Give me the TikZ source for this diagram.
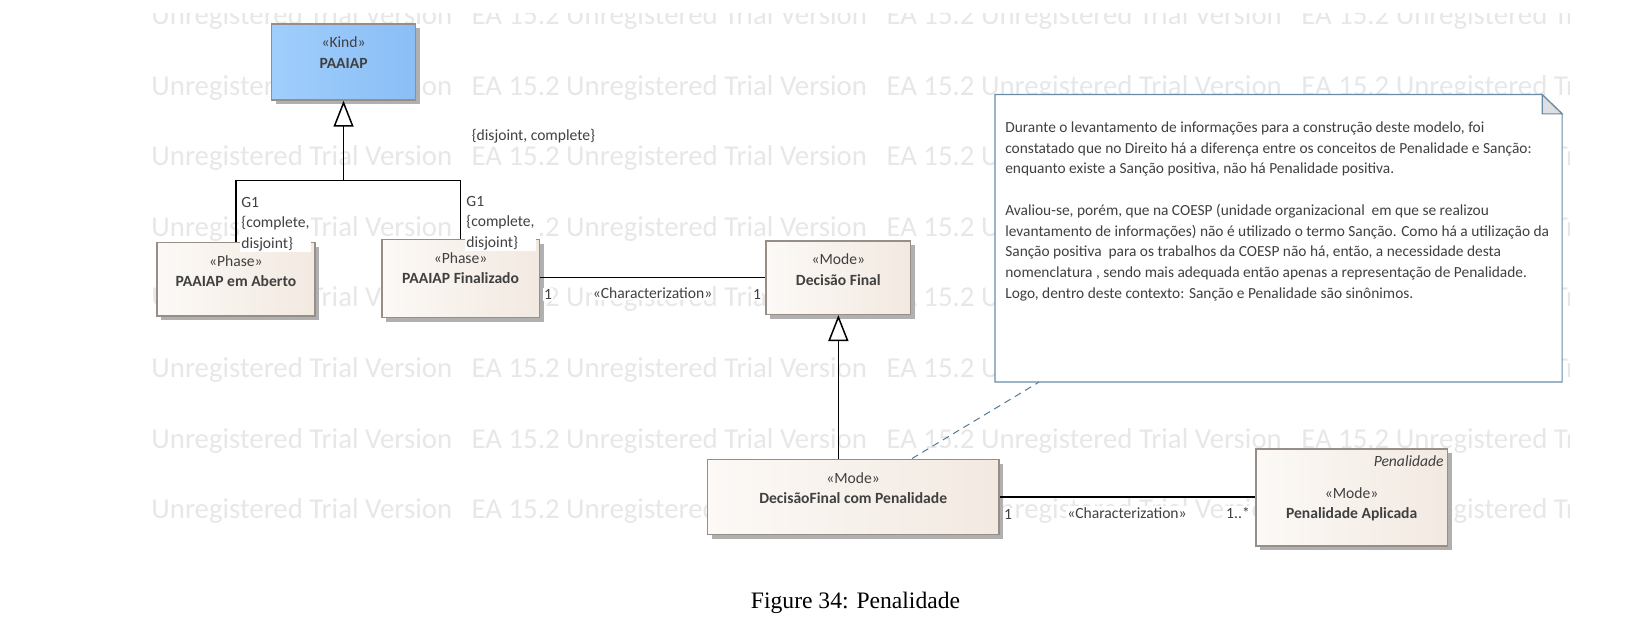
\documentclass[tikz,border=0pt]{standalone}
\usepackage{fontspec}
\usetikzlibrary{arrows.meta,calc,shadows}
\newfontfamily\eafont{Carlito}
\newfontfamily\capfont{Liberation Serif}
\definecolor{r231g231b231}{RGB}{231,231,231}
\definecolor{r64g64b64}{RGB}{64,64,64}
\definecolor{r152g142b136}{RGB}{152,142,136}
\definecolor{r252g249b246}{RGB}{252,249,246}
\definecolor{r242g233b225}{RGB}{242,233,225}
\definecolor{r160g206b252}{RGB}{160,206,252}
\definecolor{r138g190b246}{RGB}{138,190,246}
\definecolor{r176g176b176}{RGB}{176,176,176}
\definecolor{r104g140b168}{RGB}{104,140,168}
\definecolor{r221g223b227}{RGB}{221,223,227}
\definecolor{r84g122b150}{RGB}{84,122,150}

\begin{document}
\begin{tikzpicture}[x=0.5pt,y=-0.5pt,
    eatext/.style={font=\eafont\fontsize{7.8}{10.35}\selectfont,text=r64g64b64,inner sep=0pt},
    watermark/.style={anchor=base west,inner sep=0pt,text=r231g231b231,font=\eafont\fontsize{14.4}{17}\selectfont},
    classbox/.style={draw=r152g142b136,line width=0.75pt,left color=r252g249b246,right color=r242g233b225,inner sep=0pt,
        drop shadow={shadow xshift=2.2pt,shadow yshift=-2.2pt,fill=r176g176b176,opacity=1}},
    kindbox/.style={classbox,left color=r160g206b252,right color=r138g190b246},
    stereo/.style={eatext,anchor=base},
    classname/.style={eatext,anchor=base,font=\eafont\bfseries\fontsize{7.8}{10.35}\selectfont},
    mult/.style={eatext,anchor=base,fill=white,inner sep=0.6pt},
    genset/.style={eatext,anchor=north west,align=left,fill=white,inner sep=0.5pt},
    notedraw/.style={draw=r104g140b168,line width=0.6pt},
    notelink/.style={draw=r84g122b150,line width=0.5pt,dash pattern=on 3.5pt off 2.5pt},
    assoc/.style={draw=black,line width=0.75pt},
    gen/.style={draw=black,line width=0.75pt,-{Triangle[length=13pt,width=10pt,fill=white]}}]
\useasboundingbox (0,0) rectangle (1652,624);

% Watermark rows
\begin{scope}
\clip (150,13.3) rectangle (1569,560);
\foreach \row [count=\i] in {24.5,95.1,165.7,236.3,306.9,377.5,448.1,518.7}
  \node[watermark] (wm\i) at (151,\row) {Unregistered Trial Version\ \ \ EA 15.2 Unregistered Trial Version\ \ \ EA 15.2 Unregistered Trial Version\ \ \ EA 15.2 Unregistered Trial Version};
\end{scope}

% Drawing note
\node[minimum width=283.2pt,minimum height=143.35pt,inner sep=0pt] (note) at (1278.5,238.35) {};
\draw[notedraw,fill=white] (note.south west) -- (note.north west) -- ([xshift=-9.95pt]note.north east)
    -- ([yshift=-9.65pt]note.north east) -- (note.south east) -- cycle;
\draw[notedraw,fill=r221g223b227] ([xshift=-9.95pt]note.north east) -- ([xshift=-9.95pt,yshift=-9.65pt]note.north east)
    -- ([yshift=-9.65pt]note.north east) -- cycle;
\node[eatext,anchor=north west,align=left,font=\eafont\fontsize{7.7}{10.375}\selectfont] (notetxt) at (1004.9,121.4) {Durante o levantamento de informações para a construção deste modelo, foi\\
constatado que no Direito há a diferença entre os conceitos de Penalidade e Sanção:\\
enquanto existe a Sanção positiva, não há Penalidade positiva.\\[10.375pt]
Avaliou-se, porém, que na COESP (unidade organizacional\ \ em que se realizou\\
levantamento de informações) não é utilizado o termo Sanção. Como há a utilização da\\
Sanção positiva\ \ para os trabalhos da COESP não há, então, a necessidade desta\\
nomenclatura , sendo mais adequada então apenas a representação de Penalidade.\\
Logo, dentro deste contexto: Sanção e Penalidade são sinônimos.};

% Drawing class PAAIAP
\node[kindbox,minimum width=72.15pt,minimum height=38pt] (kind) at (343.55,62) {};
\node[stereo] (kindst) at ([yshift=-12.15pt]kind.north) {«Kind»};
\node[classname] (kindnm) at ([yshift=-22.5pt]kind.north) {PAAIAP};

% Drawing class PAAIAP em Aberto
\node[classbox,minimum width=79.1pt,minimum height=36.65pt] (aberto) at (235.9,279.35) {};
\node[stereo] (abertost) at ([yshift=-12.3pt]aberto.north) {«Phase»};
\node[classname] (abertonm) at ([yshift=-22.5pt]aberto.north) {PAAIAP em Aberto};

% Drawing class PAAIAP Finalizado
\node[classbox,minimum width=78.75pt,minimum height=39pt] (finalizado) at (460.55,278.3) {};
\node[stereo] (finalizadost) at ([yshift=-12.3pt]finalizado.north) {«Phase»};
\node[classname] (finalizadonm) at ([yshift=-22.5pt]finalizado.north) {PAAIAP Finalizado};

% Drawing class Decisao Final
\node[classbox,minimum width=72.35pt,minimum height=36.65pt] (df) at (838.35,277.65) {};
\node[stereo] (dfst) at ([yshift=-12.3pt]df.north) {«Mode»};
\node[classname] (dfnm) at ([yshift=-22.5pt]df.north) {Decisão Final};

% Drawing class Decisao Final com Penalidade
\node[classbox,minimum width=145.85pt,minimum height=37.5pt] (dfcp) at (853.15,496.8) {};
\node[stereo] (dfcpst) at ([yshift=-12.3pt]dfcp.north) {«Mode»};
\node[classname] (dfcpnm) at ([yshift=-22.5pt]dfcp.north) {DecisãoFinal com Penalidade};

% Drawing class Penalidade Aplicada
\node[classbox,minimum width=95.65pt,minimum height=48.5pt] (penal) at (1351.65,497.5) {};
\node[eatext,anchor=base east,font=\eafont\itshape\fontsize{7.8}{10.35}\selectfont] (penaltag) at ([xshift=-2pt,yshift=-9pt]penal.north east) {Penalidade};
\node[stereo] (penalst) at ([yshift=-25pt]penal.north) {«Mode»};
\node[classname] (penalnm) at ([yshift=-35.25pt]penal.north) {Penalidade Aplicada};

% Drawing generalization set G1
\coordinate (g1) at (343.55,180.7);
\draw[assoc] (aberto.north) |- (g1) -| (finalizado.north);
\draw[gen] (g1) -- (kind.south);
\node[genset] (g1left) at (240,195.5) {G1\\\{complete,\\disjoint\}};
\node[genset] (g1right) at (465,194.5) {G1\\\{complete,\\disjoint\}};
\node[eatext,anchor=base west] (gsetlabel) at (471.4,140.5) {\{disjoint, complete\}};

% Drawing generalization Decisao Final com Penalidade -> Decisao Final
\draw[gen] (dfcp.north -| df.south) -- (df.south);

% Drawing associations
\draw[assoc] (df.west -| finalizado.east) -- (df.west);
\node[mult] (m1a) at (548,299.5) {1};
\node[mult] (char1) at (652.6,299) {«Characterization»};
\node[mult] (m1b) at (757,299.5) {1};
\draw[assoc] (dfcp.east) -- (dfcp.east -| penal.west);
\node[mult] (m2a) at (1008,519) {1};
\node[mult] (char2) at (1127,518) {«Characterization»};
\node[mult] (m2b) at (1238,518.5) {1..*};

% Drawing note link
\draw[notelink] ($(dfcp.north west)!0.7007!(dfcp.north east)$) -- ($(note.south west)!0.0777!(note.south east)$);

% Caption
\node[font=\capfont\fontsize{11.8}{14}\selectfont,anchor=base,inner sep=0pt] (caption) at (855.5,608.5) {Figure 34: Penalidade};
\end{tikzpicture}
\end{document}
